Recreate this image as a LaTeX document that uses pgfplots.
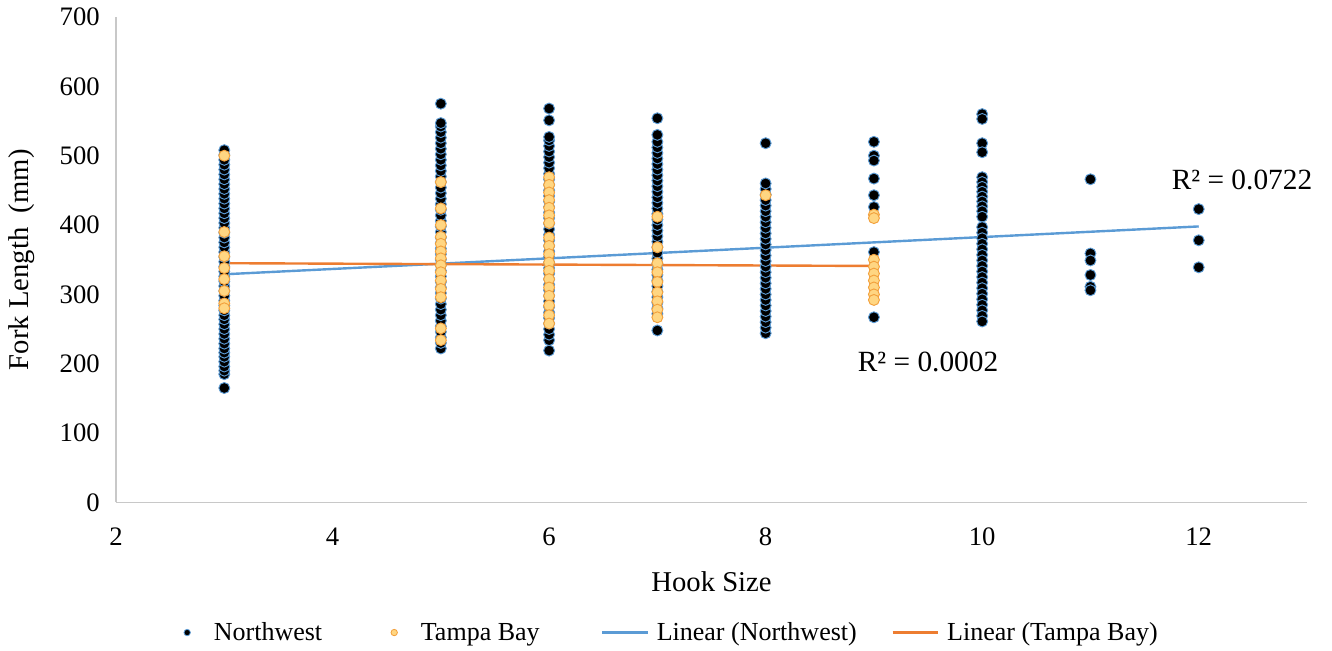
\documentclass[border=0pt]{standalone}
\usepackage{fontspec}
\setmainfont{Liberation Serif}
\usepackage{pgfplots}
\pgfplotsset{compat=1.18}
\definecolor{nwblue}{RGB}{91,155,213}
\definecolor{tborange}{RGB}{237,125,49}
\definecolor{tbfill}{RGB}{255,214,130}
\definecolor{tbedge}{RGB}{242,160,60}
\definecolor{axgray}{RGB}{200,200,200}
\newcommand{\fs}{\fontsize{20}{22}\selectfont}
\newcommand{\fl}{\fontsize{21.5}{23}\selectfont}
\newcommand{\fg}{\fontsize{19.5}{21}\selectfont}
\newcommand{\fr}{\fontsize{22}{24}\selectfont}
\begin{document}
\begin{tikzpicture}
\begin{axis}[
  scale only axis, width=893pt, height=364pt,
  xmin=2, xmax=13, ymin=0, ymax=700,
  xtick={2,4,...,12}, ytick={0,100,...,700},
  axis x line*=bottom, axis y line*=left,
  axis line style={draw=axgray, line width=0.8pt},
  major tick length=0pt, tick style={draw=none},
  /pgf/number format/assume math mode=true,
  ticklabel style={font=\fs},
  xticklabel style={anchor=center, inner sep=0pt, yshift=-26pt},
  yticklabel style={anchor=east, inner sep=0pt, xshift=-12pt},
  xlabel={Hook Size}, ylabel={Fork Length\ \ (mm)},
  label style={font=\fl},
  xlabel style={at={(axis description cs:0.5,-0.163)}, anchor=center},
  ylabel style={at={(axis description cs:-0.0789,0.5)}, anchor=center},
  clip=false,
  legend columns=4,
  legend style={at={(axis description cs:0.456,-0.268)}, anchor=center, draw=none, fill=none, font=\fg,
    nodes={inner xsep=0pt},
    /tikz/every odd column/.append style={column sep=6pt},
    /tikz/column 2/.style={column sep=34pt},
    /tikz/column 4/.style={column sep=46pt},
    /tikz/column 6/.style={column sep=26pt}},
]
\addplot[only marks, mark=*, mark size=4.1pt, mark options={fill=black, draw=nwblue, line width=0.7pt},
  legend image code/.code={\path[draw=none,fill=none] (0pt,0pt) rectangle (34pt,0.1pt); \draw[mark size=2.4pt, mark options={fill=black, draw=nwblue, line width=0.6pt}] plot[mark=*, only marks] coordinates {(20pt,0pt)};}]
coordinates {
(3,165)(3,185)(3,190)(3,196)(3,203)(3,210)(3,216)(3,222)(3,229)(3,236)(3,243)(3,250)(3,257)(3,264)(3,270)(3,277)(3,284)(3,291)(3,298)(3,305)(3,312)(3,319)(3,326)(3,333)(3,340)(3,347)(3,354)(3,361)(3,368)(3,375)(3,382)(3,389)(3,396)(3,403)(3,410)(3,417)(3,424)(3,431)(3,438)(3,445)(3,452)(3,459)(3,466)(3,473)(3,480)(3,487)(3,494)(3,501)(3,508)
(5,222)(5,230)(5,238)(5,246)(5,254)(5,262)(5,270)(5,278)(5,286)(5,294)(5,302)(5,310)(5,318)(5,326)(5,334)(5,342)(5,350)(5,358)(5,366)(5,374)(5,382)(5,390)(5,398)(5,406)(5,414)(5,422)(5,430)(5,438)(5,446)(5,454)(5,462)(5,470)(5,478)(5,486)(5,494)(5,502)(5,510)(5,518)(5,526)(5,534)(5,542)(5,547)(5,575)
(6,219)(6,234)(6,242)(6,250)(6,258)(6,266)(6,274)(6,282)(6,290)(6,298)(6,306)(6,314)(6,322)(6,330)(6,338)(6,346)(6,354)(6,362)(6,370)(6,378)(6,386)(6,394)(6,402)(6,410)(6,418)(6,426)(6,434)(6,442)(6,450)(6,458)(6,466)(6,474)(6,482)(6,490)(6,498)(6,506)(6,514)(6,522)(6,527)(6,551)(6,568)
(7,248)(7,272)(7,280)(7,288)(7,296)(7,304)(7,312)(7,320)(7,328)(7,336)(7,344)(7,352)(7,360)(7,368)(7,376)(7,384)(7,392)(7,400)(7,408)(7,416)(7,424)(7,432)(7,440)(7,448)(7,456)(7,464)(7,472)(7,480)(7,488)(7,496)(7,504)(7,512)(7,520)(7,530)(7,554)
(8,244)(8,252)(8,260)(8,268)(8,276)(8,284)(8,292)(8,300)(8,308)(8,316)(8,324)(8,332)(8,340)(8,348)(8,356)(8,364)(8,372)(8,380)(8,388)(8,396)(8,404)(8,412)(8,420)(8,428)(8,436)(8,444)(8,452)(8,460)(8,518)
(9,520)(9,500)(9,493)(9,467)(9,443)(9,426)(9,361)(9,267)
(10,560)(10,553)(10,518)(10,505)(10,469)(10,462)(10,455)(10,448)(10,441)(10,434)(10,427)(10,420)(10,412)(10,397)(10,389)(10,381)(10,373)(10,365)(10,357)(10,349)(10,341)(10,333)(10,325)(10,317)(10,309)(10,301)(10,293)(10,285)(10,277)(10,269)(10,261)
(11,466)(11,359)(11,349)(11,328)(11,311)(11,306)
(12,423)(12,378)(12,339)
};
\addlegendentry{Northwest}
\addplot[only marks, mark=*, mark size=4.1pt, mark options={fill=tbfill, draw=tbedge, line width=0.7pt},
  legend image code/.code={\path[draw=none,fill=none] (0pt,0pt) rectangle (34pt,0.1pt); \draw[mark size=2.4pt, mark options={fill=tbfill, draw=tbedge, line width=0.6pt}] plot[mark=*, only marks] coordinates {(20pt,0pt)};}]
coordinates {
(3,500)(3,390)(3,355)(3,338)(3,322)(3,305)(3,287)(3,280)
(5,462)(5,424)(5,400)(5,383)(5,373)(5,362)(5,352)(5,342)(5,332)(5,320)(5,308)(5,296)(5,251)(5,234)
(6,469)(6,458)(6,447)(6,436)(6,425)(6,414)(6,403)(6,382)(6,370)(6,358)(6,346)(6,334)(6,322)(6,310)(6,298)(6,284)(6,270)(6,258)
(7,412)(7,368)(7,345)(7,332)(7,318)(7,303)(7,290)(7,278)(7,267)
(8,443)
(9,415)(9,410)(9,350)(9,340)(9,330)(9,320)(9,310)(9,300)(9,292)
};
\addlegendentry{Tampa Bay}
\addplot[nwblue, line width=1.8pt, no marks,
  legend image code/.code={\draw[nwblue, line width=1.8pt] (0pt,0pt) -- (34pt,0pt);}]
coordinates {(3,329)(12,398)};
\addlegendentry{Linear (Northwest)}
\addplot[tborange, line width=1.8pt, no marks,
  legend image code/.code={\draw[tborange, line width=1.8pt] (0pt,0pt) -- (34pt,0pt);}]
coordinates {(3,345)(9,341)};
\addlegendentry{Linear (Tampa Bay)}
\node[font=\fr] at (axis cs:12.40,465) {R² = 0.0722};
\node[font=\fr] at (axis cs:9.50,202) {R² = 0.0002};
\coordinate (bl) at (rel axis cs:0,0);
\coordinate (tr) at (rel axis cs:1,1);
\end{axis}
\pgfresetboundingbox
\path ([shift={(-87pt,-111pt)}]bl) rectangle ([shift={(18.75pt,12.75pt)}]tr);
\end{tikzpicture}
\end{document}
